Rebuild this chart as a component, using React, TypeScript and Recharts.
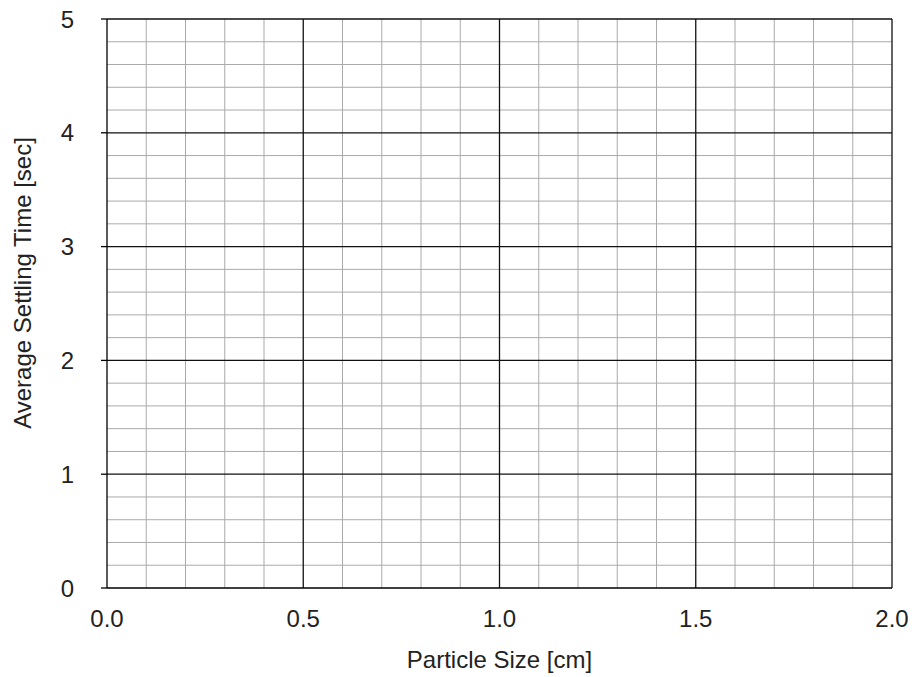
import React from 'react';
import { ScatterChart, Scatter, XAxis, YAxis, ReferenceLine } from 'recharts';

// empty grid chart: no measurements plotted yet
const xTicks = [0, 0.5, 1, 1.5, 2];
const yTicks = [0, 1, 2, 3, 4, 5];
const xMinor = [0.1, 0.2, 0.3, 0.4, 0.6, 0.7, 0.8, 0.9, 1.1, 1.2, 1.3, 1.4, 1.6, 1.7, 1.8, 1.9];
const yMinor = [
  0.2, 0.4, 0.6, 0.8, 1.2, 1.4, 1.6, 1.8, 2.2, 2.4, 2.6, 2.8,
  3.2, 3.4, 3.6, 3.8, 4.2, 4.4, 4.6, 4.8,
];
const xMajor = [0.5, 1, 1.5, 2];
const yMajor = [1, 2, 3, 4, 5];
const points: { size: number; time: number }[] = [];

const FONT = '"Liberation Sans", Arial, sans-serif';
const TEXT = '#222';

const XTick = ({ x, y, payload }: any) => (
  <text x={x} y={y + 37} textAnchor="middle" fontFamily={FONT} fontSize={24} fill={TEXT}>
    {Number(payload.value).toFixed(1)}
  </text>
);

const YTick = ({ x, y, payload }: any) => (
  <text x={x} y={y} textAnchor="end" dominantBaseline="central" fontFamily={FONT} fontSize={24} fill={TEXT}>
    {payload.value}
  </text>
);

const YLabel = () => (
  <text
    x={22}
    y={283}
    transform="rotate(-90 22 283)"
    textAnchor="middle"
    dominantBaseline="central"
    fontFamily={FONT}
    fontSize={24}
    fill={TEXT}
  >
    Average Settling Time [sec]
  </text>
);

export default function App() {
  return (
    <div style={{ position: 'absolute', left: 0, top: 0 }}>
      <ScatterChart width={913} height={677} margin={{ top: 19, right: 21, bottom: 9, left: 0 }}>
        <XAxis
          type="number"
          dataKey="size"
          domain={[0, 2]}
          allowDataOverflow
          ticks={xTicks}
          tick={<XTick />}
          tickLine={false}
          tickSize={0}
          axisLine={{ stroke: '#000', strokeWidth: 1.3 }}
          height={80}
          label={{
            value: 'Particle Size [cm]',
            position: 'insideBottom',
            offset: 0,
            style: { fontFamily: FONT, fontSize: 24, fill: TEXT },
          }}
        />
        <YAxis
          type="number"
          dataKey="time"
          domain={[0, 5]}
          allowDataOverflow
          ticks={yTicks}
          tick={<YTick />}
          tickSize={6}
          tickMargin={27}
          tickLine={{ stroke: '#000', strokeWidth: 1.3 }}
          axisLine={{ stroke: '#000', strokeWidth: 1.3 }}
          width={107}
          label={<YLabel />}
        />
        {xMinor.map((v) => (
          <ReferenceLine key={`xm-${v}`} x={v} stroke="#aaa" strokeWidth={1} />
        ))}
        {yMinor.map((v) => (
          <ReferenceLine key={`ym-${v}`} y={v} stroke="#aaa" strokeWidth={1} />
        ))}
        {xMajor.map((v) => (
          <ReferenceLine key={`xM-${v}`} x={v} stroke="#111" strokeWidth={1.3} />
        ))}
        {yMajor.map((v) => (
          <ReferenceLine key={`yM-${v}`} y={v} stroke="#111" strokeWidth={1.3} />
        ))}
        <Scatter data={points} fill="#000" isAnimationActive={false} />
      </ScatterChart>
    </div>
  );
}
